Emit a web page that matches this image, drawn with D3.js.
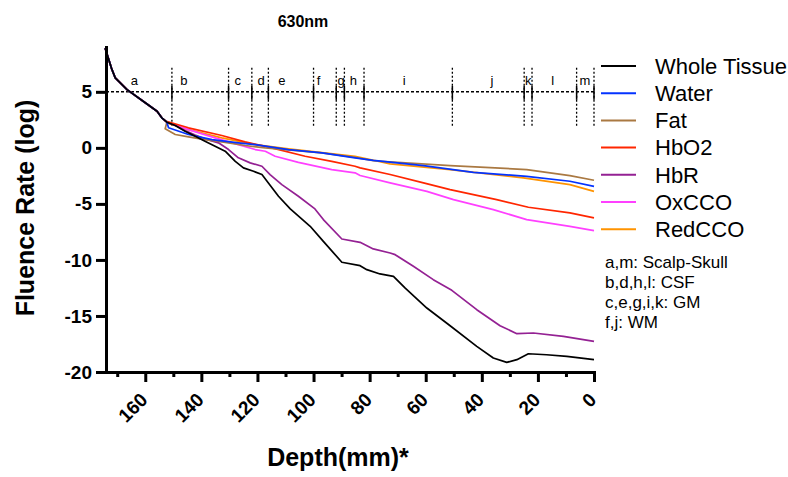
<!DOCTYPE html>
<html>
<head>
<meta charset="utf-8">
<script src="https://cdn.jsdelivr.net/npm/d3@7"></script>
<style>
  body { margin: 0; background: #fff; }
  text { font-family: Arial, "Liberation Sans", sans-serif; }
</style>
</head>
<body>
<script>

// data: [depth (mm), log fluence rate]
var surfaceCurve = [[174.3,8.9],[171.9,7.0],[170.7,6.25],[166.5,5.2],[160.0,4.02],[155.8,3.27],[154.1,2.68],[152.3,2.29]];

var wholeTissue = [[149.3,1.99],[145.8,1.48],[142.2,1.04],[138.7,0.59],[135.1,0.14],[131.5,-0.30],[127.9,-1.20],[125.0,-1.79],[121.4,-2.09],[118.4,-2.38],[116.1,-3.13],[112.5,-4.32],[108.3,-5.45],[101.2,-7.0],[96.5,-8.34],[89.9,-10.21],[83.4,-10.51],[81.0,-10.87],[76.3,-11.25],[71.5,-11.46],[67.4,-12.5],[59.6,-14.29],[51.3,-15.87],[41.8,-17.71],[35.9,-18.75],[31.1,-19.14],[27.5,-18.9],[23.4,-18.37],[16.9,-18.46],[9.7,-18.6],[0,-18.9]];
var water = [[151.7,1.79],[144.6,1.19],[136.2,0.74],[126.8,0.45],[120.8,0.29],[108.9,-0.15],[97.0,-0.45],[85.2,-0.89],[78.7,-1.11],[60.8,-1.58],[43.0,-2.18],[24.0,-2.54],[8.6,-2.98],[0,-3.43]];
var fat = [[152.9,1.70],[149.3,1.19],[144.6,0.98],[138.7,0.74],[132.7,0.54],[124.4,0.21],[117.2,0.0],[97.0,-0.45],[85.2,-0.85],[78.7,-1.15],[51.3,-1.58],[24.0,-1.94],[8.6,-2.47],[0,-2.89]];
var hbo2 = [[152.2,2.35],[144.6,1.79],[132.7,1.10],[124.4,0.54],[114.9,0.0],[103.0,-0.75],[93.5,-1.20],[85.2,-1.64],[83.4,-1.79],[72.7,-2.38],[60.8,-3.13],[51.3,-3.72],[34.7,-4.62],[23.4,-5.30],[8.6,-5.80],[0,-6.25]];
var hbr = [[149.3,2.0],[145.8,1.55],[142.2,1.15],[138.7,0.8],[133.9,0.45],[130.3,-0.15],[126.8,-0.89],[122.6,-1.34],[118.4,-1.64],[115.5,-2.38],[111.3,-3.28],[105.4,-4.32],[99.5,-5.45],[96.5,-6.4],[89.9,-8.13],[83.4,-8.43],[78.7,-9.02],[72.7,-9.38],[70.9,-9.53],[64.4,-10.57],[57.3,-11.76],[50.7,-12.71],[41.8,-14.44],[33.5,-15.87],[27.5,-16.58],[21.6,-16.52],[10.9,-16.82],[0,-17.27]];
var oxcco = [[152.2,2.3],[144.6,1.63],[135.1,0.89],[126.8,0.29],[120.8,-0.15],[117.2,-0.30],[113.7,-0.75],[105.4,-1.29],[93.5,-1.94],[85.2,-2.23],[83.4,-2.47],[72.7,-3.13],[59.6,-3.88],[50.1,-4.62],[35.9,-5.51],[24.0,-6.40],[8.6,-7.0],[0,-7.38]];
var redcco = [[151.7,2.17],[144.6,1.63],[132.7,0.89],[120.8,0.29],[108.9,-0.09],[85.2,-0.75],[72.7,-1.43],[51.3,-1.94],[25.2,-2.68],[8.6,-3.28],[0,-3.88]];

var seriesNames = ["Whole Tissue", "Water", "Fat", "HbO2", "HbR", "OxCCO", "RedCCO"];
var seriesValues = [wholeTissue, water, fat, hbo2, hbr, oxcco, redcco];

// tissue layer boundaries (depth) and their letters
var layerBounds = [150.5, 130.3, 122, 116.1, 100, 91.9, 89, 82, 50.5, 24.9, 22.1, 6.2, 0];
var layerLetters = ["a","b","c","d","e","f","g","h","i","j","k","l","m"];
var layerLetterDepth = [163.9, 146.2, 127.0, 118.7, 111.3, 98.2, 90.2, 85.8, 67.7, 36.4, 23.4, 14.7, 3.2];
var layerLevel = 5;

var yTicks = [5, 0, -5, -10, -15, -20];
var xTicks = d3.range(0, 171, 10);
var notes = ["a,m: Scalp-Skull", "b,d,h,l: CSF", "c,e,g,i,k: GM", "f,j: WM"];

var colors = ["#000000", "#0433FF", "#AA7942", "#FF2600", "#942193", "#FF40FF", "#FF9300"];

var width = 788, height = 477;
var margin = {left: 106, top: 47, right: 194, bottom: 105};

var svg = d3.select("body").append("svg")
    .attr("width", width)
    .attr("height", height);

var x = d3.scaleLinear().domain([174, 0]).range([margin.left, width - margin.right]);
var y = d3.scaleLinear().domain([-20, 9]).range([height - margin.bottom, margin.top]);

// layer markers
var layers = svg.append("g").attr("class", "layers");

layers.append("line")
    .attr("x1", x(174)).attr("x2", x(0))
    .attr("y1", y(layerLevel)).attr("y2", y(layerLevel))
    .attr("stroke", "#000").attr("stroke-width", 1.5)
    .attr("stroke-dasharray", "3,2");

layers.selectAll("line.bound")
    .data(layerBounds)
    .enter().append("line")
    .attr("class", "bound")
    .attr("x1", function(d){ return x(d) }).attr("x2", function(d){ return x(d) })
    .attr("y1", y(layerLevel) - 24).attr("y2", y(layerLevel) + 34)
    .attr("stroke", "#000").attr("stroke-width", 1.3)
    .attr("stroke-dasharray", "2,2");

layers.selectAll("line.cap")
    .data(layerBounds)
    .enter().append("line")
    .attr("class", "cap")
    .attr("x1", function(d){ return x(d) }).attr("x2", function(d){ return x(d) })
    .attr("y1", y(layerLevel) - 6).attr("y2", y(layerLevel) + 8)
    .attr("stroke", "#000").attr("stroke-width", 1.5);

layers.selectAll("text")
    .data(layerLetters)
    .enter().append("text")
    .attr("x", function(d, i){ return x(layerLetterDepth[i]) })
    .attr("y", y(layerLevel) - 7)
    .attr("text-anchor", "middle")
    .style("font-size", "13px")
    .text(function(d){ return d });

// curves
var line = d3.line()
    .x(function(d){ return x(d[0]) })
    .y(function(d){ return y(d[1]) });

var order = d3.range(seriesNames.length).reverse();

svg.append("g")
    .attr("class", "curves")
    .selectAll("path")
    .data(order)
    .enter().append("path")
    .attr("d", function(i){ return line(surfaceCurve.concat(seriesValues[i])) })
    .attr("fill", "none")
    .attr("stroke", function(i){ return colors[i] })
    .attr("stroke-width", 1.7)
    .attr("stroke-linejoin", "round");

// axes
var yAxis = svg.append("g")
    .attr("transform", "translate(" + margin.left + ",0)")
    .call(d3.axisLeft(y).tickValues(yTicks).tickSize(10).tickSizeOuter(0).tickPadding(4)
        .tickFormat(function(d){ return String(d) }));

var xAxis = svg.append("g")
    .attr("transform", "translate(0," + (height - margin.bottom) + ")")
    .call(d3.axisBottom(x).tickValues(xTicks).tickSize(10).tickSizeOuter(0)
        .tickFormat(function(d){ return d % 20 === 0 ? String(d) : "" }));

[yAxis, xAxis].forEach(function(ax){
  ax.select(".domain").attr("stroke-width", 3).attr("stroke-linecap", "square");
  ax.selectAll(".tick line").attr("stroke-width", 3);
  ax.selectAll("text").style("font-size", "19px").style("font-weight", "bold").attr("fill", "#000");
});

xAxis.selectAll(".tick").filter(function(d){ return d % 20 !== 0 })
    .select("line").attr("y2", 5);

xAxis.selectAll(".tick text")
    .attr("text-anchor", "end")
    .attr("x", 0).attr("y", 0).attr("dy", 0)
    .attr("transform", "translate(3,29) rotate(-45)");

// titles
svg.append("text")
    .attr("x", 303).attr("y", 27)
    .attr("text-anchor", "middle")
    .style("font-size", "16px").style("font-weight", "bold")
    .text("630nm");

svg.append("text")
    .attr("transform", "translate(34,208) rotate(-90)")
    .attr("text-anchor", "middle")
    .style("font-size", "25px").style("font-weight", "bold")
    .text("Fluence Rate (log)");

svg.append("text")
    .attr("x", 338).attr("y", 466)
    .attr("text-anchor", "middle")
    .style("font-size", "25px").style("font-weight", "bold")
    .text("Depth(mm)*");

// legend
var legend = svg.append("g")
    .attr("class", "legend")
    .attr("transform", "translate(601,66)");

var item = legend.selectAll("g")
    .data(seriesNames)
    .enter().append("g")
    .attr("transform", function(d, i){ return "translate(0," + (i * 27.2) + ")" });

item.append("line")
    .attr("x1", 0).attr("x2", 35)
    .attr("stroke", function(d, i){ return colors[i] })
    .attr("stroke-width", 2);

item.append("text")
    .attr("x", 54).attr("dy", "0.35em")
    .style("font-size", "22px")
    .text(function(d){ return d });

svg.append("g")
    .attr("transform", "translate(605,262)")
    .selectAll("text")
    .data(notes)
    .enter().append("text")
    .attr("y", function(d, i){ return i * 20 })
    .attr("dy", "0.35em")
    .style("font-size", "17px")
    .text(function(d){ return d });

</script>
</body>
</html>
